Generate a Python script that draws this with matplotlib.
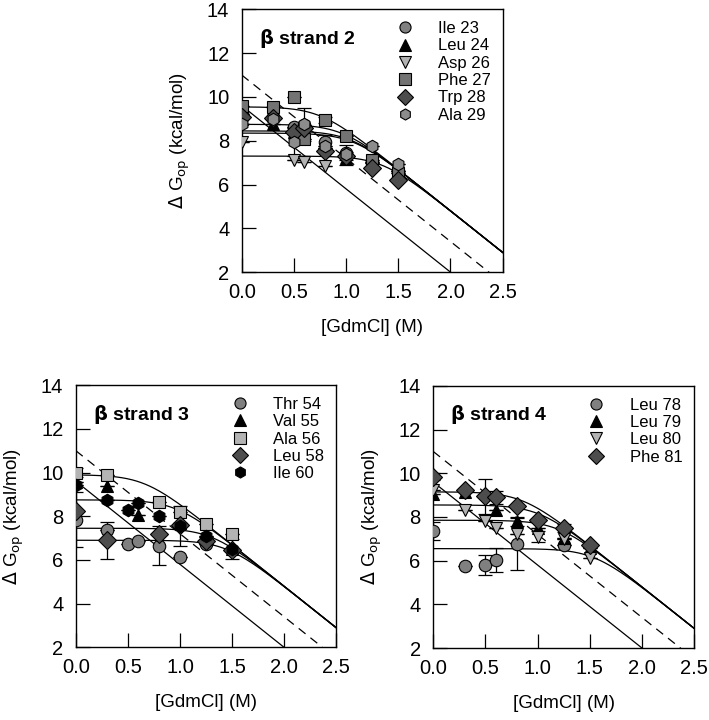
import numpy as np
import matplotlib
matplotlib.use('Agg')
import matplotlib.pyplot as plt
from matplotlib.lines import Line2D

plt.rcParams['font.family'] = ['Liberation Sans', 'DejaVu Sans']

# --- Data: beta strand 2 ---
s2_ile23_x = [0.0, 0.3, 0.5, 0.6, 0.8, 1.0, 1.25, 1.5]
s2_ile23_y = [9.2, 9.1, 8.65, 8.7, 7.95, 7.45, 7.05, 6.6]
s2_ile23_e = [0, 0, 0, 0, 0.3, 0.35, 0, 0]
s2_leu24_x = [0.0, 0.3, 0.5, 0.6, 0.8, 1.0, 1.25, 1.5]
s2_leu24_y = [9.0, 8.75, 8.4, 8.45, 7.65, 7.2, 7.0, 6.4]
s2_leu24_e = [0, 0, 0, 0, 0, 0.3, 0, 0.2]
s2_asp26_x = [0.0, 0.5, 0.6, 0.8]
s2_asp26_y = [7.95, 7.1, 7.05, 6.85]
s2_asp26_e = [0, 0, 0, 0]
s2_phe27_x = [0.0, 0.3, 0.5, 0.6, 0.8, 1.0, 1.25, 1.5]
s2_phe27_y = [9.6, 9.55, 10.0, 8.1, 8.95, 8.2, 7.1, 6.55]
s2_phe27_e = [0, 0, 0, 0, 0.15, 0, 0, 0]
s2_trp28_x = [0.0, 0.3, 0.5, 0.6, 0.8, 1.0, 1.25, 1.5]
s2_trp28_y = [9.1, 9.05, 8.4, 8.6, 7.55, 7.3, 6.75, 6.2]
s2_trp28_e = [0, 0, 0, 0, 0, 0, 0, 0]
s2_ala29_x = [0.0, 0.3, 0.5, 0.6, 0.8, 1.0, 1.25, 1.5]
s2_ala29_y = [8.75, 9.0, 7.95, 8.75, 7.75, 7.4, 7.75, 6.95]
s2_ala29_e = [0, 0, 0.65, 0.75, 0, 0, 0, 0]
s2_plateaus = [9.55, 8.75, 8.45, 8.35, 7.3]

# --- Data: beta strand 3 ---
s3_thr54_x = [0.0, 0.3, 0.5, 0.6, 0.8, 1.0, 1.25]
s3_thr54_y = [7.85, 7.35, 6.75, 6.85, 6.65, 6.15, 6.75]
s3_thr54_e = [1.25, 0, 0, 0, 0.9, 0, 0]
s3_val55_x = [0.0, 0.3, 0.6, 1.0, 1.25, 1.5]
s3_val55_y = [9.55, 9.4, 8.05, 7.7, 7.05, 6.5]
s3_val55_e = [0, 0, 0, 0, 0, 0]
s3_ala56_x = [0.0, 0.3, 0.8, 1.0, 1.25, 1.5]
s3_ala56_y = [10.0, 9.9, 8.65, 8.2, 7.65, 7.2]
s3_ala56_e = [0.2, 0, 0, 0, 0, 0]
s3_leu58_x = [0.0, 0.3, 0.8, 1.0, 1.25, 1.5]
s3_leu58_y = [8.25, 6.9, 7.2, 7.6, 6.85, 6.45]
s3_leu58_e = [0, 0.85, 0, 0, 0, 0]
s3_ile60_x = [0.0, 0.3, 0.5, 0.6, 0.8, 1.0, 1.25, 1.5]
s3_ile60_y = [9.45, 8.75, 8.3, 8.6, 8.0, 7.55, 7.1, 6.5]
s3_ile60_e = [0, 0, 0, 0, 0, 0.9, 0, 0.45]
s3_plateaus = [9.9, 8.75, 7.45, 6.9]

# --- Data: beta strand 4 ---
s4_leu78_x = [0.0, 0.3, 0.5, 0.6, 0.8, 1.25]
s4_leu78_y = [7.35, 5.75, 5.8, 6.05, 6.75, 6.7]
s4_leu78_e = [0.4, 0, 0.45, 0.55, 1.2, 0]
s4_leu79_x = [0.0, 0.3, 0.6, 0.8, 1.0, 1.25, 1.5]
s4_leu79_y = [9.05, 9.15, 8.3, 7.8, 7.5, 7.05, 6.6]
s4_leu79_e = [0, 0, 0, 0.2, 0, 0, 0]
s4_leu80_x = [0.0, 0.3, 0.5, 0.6, 0.8, 1.0, 1.25, 1.5]
s4_leu80_y = [9.25, 8.3, 7.8, 7.5, 7.2, 7.1, 7.0, 6.1]
s4_leu80_e = [0, 0, 0, 0, 0, 0.25, 0, 0]
s4_phe81_x = [0.0, 0.3, 0.5, 0.6, 0.8, 1.0, 1.25, 1.5]
s4_phe81_y = [9.85, 9.25, 8.95, 8.9, 8.5, 7.85, 7.5, 6.7]
s4_phe81_e = [0.15, 0, 0.8, 0.3, 0, 0, 0.2, 0]
s4_plateaus = [9.15, 8.55, 7.85, 6.55]

# global unfolding lines (intercept, slope) and fit curve asymptote
m_slope = -3.8
solid_int = 9.6
dashed_int = 11.0
glob_int = 12.4
RT = 0.6


def fit_curve(x, plateau):
    g = glob_int + m_slope * x
    return -RT * np.log(np.exp(-plateau / RT) + np.exp(-g / RT))


def draw_panel(ax, title, series, plateaus):
    x = np.linspace(0, 2.5, 300)
    for p in plateaus:
        ax.plot(x, fit_curve(x, p), color='black', lw=0.9, zorder=2)
    xs = np.linspace(0, 2.5, 50)
    ax.plot(xs, solid_int + m_slope * xs, color='black', lw=0.9, zorder=2)
    ax.plot(xs, dashed_int + m_slope * xs, color='black', lw=0.9,
            ls=(0, (7, 5)), zorder=2)

    handles = []
    for name, xv, yv, ev, marker, fc in series:
        ax.errorbar(xv, yv, yerr=ev, fmt='none', ecolor='black',
                    elinewidth=0.9, capsize=5, capthick=0.9, zorder=3)
        ax.plot(xv, yv, ls='none', marker=marker, ms=9, mfc=fc,
                mec='black', mew=0.8, zorder=4)
        handles.append(Line2D([], [], ls='none', marker=marker, ms=8,
                              mfc=fc, mec='black', mew=0.8, label=name))

    ax.legend(handles=handles, loc='upper right', frameon=False, fontsize=12,
              handletextpad=1.5, labelspacing=0.14, borderaxespad=0.3,
              handlelength=1.0)
    ax.text(0.065, 0.89, title, transform=ax.transAxes, fontsize=14,
            fontweight='bold', va='center', ha='left')

    ax.set_xlim(0, 2.5)
    ax.set_ylim(2, 14)
    ax.set_xticks([0.0, 0.5, 1.0, 1.5, 2.0, 2.5])
    ax.set_xticklabels(['0.0', '0.5', '1.0', '1.5', '2.0', '2.5'])
    ax.set_yticks([2, 4, 6, 8, 10, 12, 14])
    ax.tick_params(direction='in', length=10, width=0.9, labelsize=14.5)
    ax.tick_params(axis='x', pad=8)
    ax.tick_params(axis='y', pad=9)
    ax.set_xlabel('[GdmCl] (M)', fontsize=13.5)
    ax.set_ylabel(r'$\Delta$ G$_{\mathrm{op}}$ (kcal/mol)', fontsize=13.5)
    ax.xaxis.set_label_coords(0.5, -0.18)
    ax.yaxis.set_label_coords(-0.19, 0.5)
    for s in ax.spines.values():
        s.set_linewidth(1.0)


def main():
    fig = plt.figure(figsize=(7.09, 7.2), dpi=100)
    ax2 = fig.add_axes([0.341, 0.622, 0.368, 0.365])
    ax3 = fig.add_axes([0.107, 0.101, 0.367, 0.364])
    ax4 = fig.add_axes([0.611, 0.100, 0.368, 0.364])

    s2 = [
        ('Ile 23', s2_ile23_x, s2_ile23_y, s2_ile23_e, 'o', '0.5'),
        ('Leu 24', s2_leu24_x, s2_leu24_y, s2_leu24_e, '^', 'black'),
        ('Asp 26', s2_asp26_x, s2_asp26_y, s2_asp26_e, 'v', '0.7'),
        ('Phe 27', s2_phe27_x, s2_phe27_y, s2_phe27_e, 's', '0.45'),
        ('Trp 28', s2_trp28_x, s2_trp28_y, s2_trp28_e, 'D', '0.3'),
        ('Ala 29', s2_ala29_x, s2_ala29_y, s2_ala29_e, 'h', '0.55'),
    ]
    s3 = [
        ('Thr 54', s3_thr54_x, s3_thr54_y, s3_thr54_e, 'o', '0.5'),
        ('Val 55', s3_val55_x, s3_val55_y, s3_val55_e, '^', 'black'),
        ('Ala 56', s3_ala56_x, s3_ala56_y, s3_ala56_e, 's', '0.7'),
        ('Leu 58', s3_leu58_x, s3_leu58_y, s3_leu58_e, 'D', '0.3'),
        ('Ile 60', s3_ile60_x, s3_ile60_y, s3_ile60_e, 'h', 'black'),
    ]
    s4 = [
        ('Leu 78', s4_leu78_x, s4_leu78_y, s4_leu78_e, 'o', '0.5'),
        ('Leu 79', s4_leu79_x, s4_leu79_y, s4_leu79_e, '^', 'black'),
        ('Leu 80', s4_leu80_x, s4_leu80_y, s4_leu80_e, 'v', '0.7'),
        ('Phe 81', s4_phe81_x, s4_phe81_y, s4_phe81_e, 'D', '0.3'),
    ]

    draw_panel(ax2, r'$\mathbf{\beta}$ strand 2', s2, s2_plateaus)
    draw_panel(ax3, r'$\mathbf{\beta}$ strand 3', s3, s3_plateaus)
    draw_panel(ax4, r'$\mathbf{\beta}$ strand 4', s4, s4_plateaus)

    fig.savefig('out.png', dpi=100)


if __name__ == "__main__":
    main()
